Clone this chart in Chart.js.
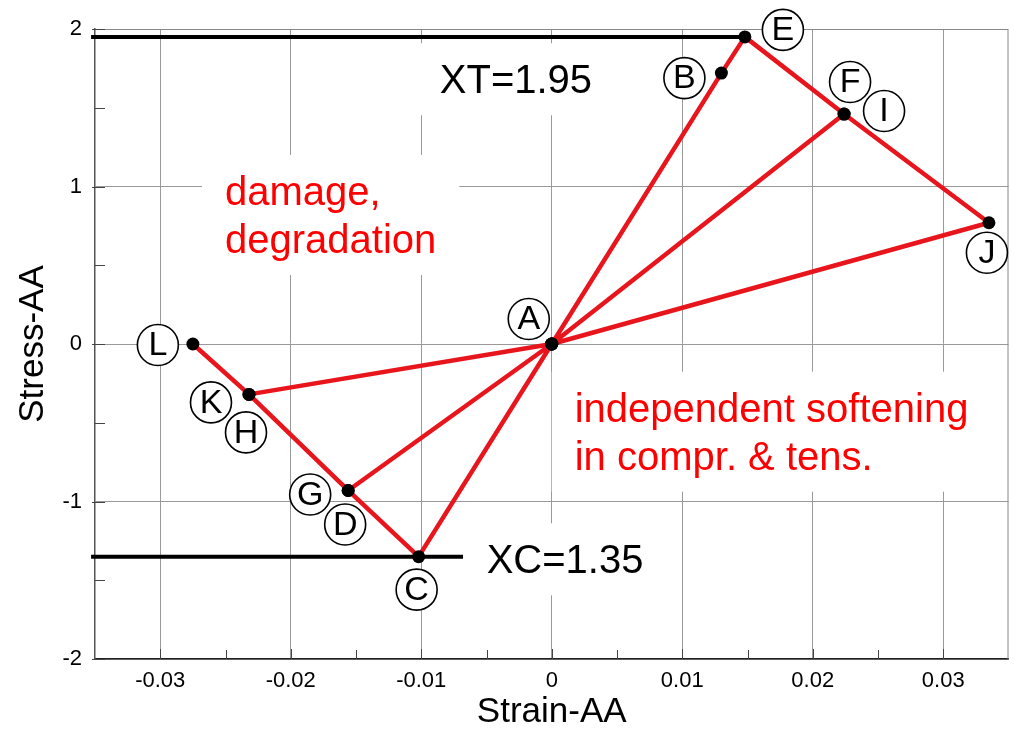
<!DOCTYPE html>
<html>
<head>
<meta charset="utf-8">
<script src="https://cdn.jsdelivr.net/npm/chart.js@4.4.1/dist/chart.umd.min.js"></script>
<style>
html, body { margin: 0; padding: 0; background: #fff; }
</style>
</head>
<body>
<canvas id="grafico" width="1015" height="730"></canvas>
<script>
// loading path, state by state
const estados = ['A', 'B', 'E', 'F', 'A', 'I', 'J', 'A', 'C', 'D', 'A', 'G', 'H', 'A', 'K', 'L'];
const deformacao = [0, 0.0130, 0.0148, 0.0224, 0, 0.0224, 0.0335, 0, -0.0102, -0.0156, 0, -0.0156, -0.0232, 0, -0.0232, -0.0275];
const tensao = [0, 1.72, 1.95, 1.46, 0, 1.46, 0.77, 0, -1.35, -0.93, 0, -0.93, -0.32, 0, -0.32, 0];

// strength limits
const limiteXT = 1.95;
const limiteXC = -1.35;
const extensaoXT = [-0.0353, 0.0148];
const extensaoXC = [-0.0353, -0.0068];

const ticksX = [-0.03, -0.02, -0.01, 0, 0.01, 0.02, 0.03];
const ticksY = [-2, -1, 0, 1, 2];

const fonte = '"Liberation Sans", Arial, sans-serif';

// where each circled letter sits relative to its point (px)
const desvioRotulo = {
	A: [-23, -25], B: [-37, 5], E: [38, -7], F: [6, -32], I: [40, -3], J: [-2, 30],
	C: [-2, 33], D: [-3, 34], G: [-38, 4], H: [-3, 38], K: [-38, 8], L: [-35, 1]
};

// free text, anchored at left / first baseline
const textos = [
	{ x: -0.00858, y: 1.592, linhas: ['XT=1.95'], cor: '#000' },
	{ x: -0.00499, y: -1.456, linhas: ['XC=1.35'], cor: '#000' },
	{ x: -0.02504, y: 0.883, linhas: ['damage,', 'degradation'], cor: '#ff0000' },
	{ x: 0.00176, y: -0.493, linhas: ['independent softening', 'in compr. & tens.'], cor: '#ff0000' }
];

function pares(xs, ys) {
	return xs.map((v, i) => ({ x: v, y: ys[i] }));
}

const anotacoes = {
	id: 'anotacoes',
	beforeDatasetsDraw(chart) {
		const ctx = chart.ctx;
		const sx = chart.scales.x, sy = chart.scales.y;
		const a = chart.chartArea;
		ctx.save();

		// top and right frame
		ctx.strokeStyle = '#888';
		ctx.lineWidth = 1;
		ctx.beginPath();
		ctx.moveTo(a.left, a.top + 0.5);
		ctx.lineTo(a.right - 0.5, a.top + 0.5);
		ctx.lineTo(a.right - 0.5, a.bottom);
		ctx.stroke();

		// inward tick marks
		ctx.strokeStyle = '#444';
		ctx.beginPath();
		ticksX.forEach((t, i) => {
			const px = Math.round(sx.getPixelForValue(t)) + 0.5;
			ctx.moveTo(px, a.bottom); ctx.lineTo(px, a.bottom - 10);
			if (i < ticksX.length - 1) {
				const m = Math.round(sx.getPixelForValue((t + ticksX[i + 1]) / 2)) + 0.5;
				ctx.moveTo(m, a.bottom); ctx.lineTo(m, a.bottom - 9);
			}
		});
		ticksY.forEach((t, i) => {
			const py = Math.round(sy.getPixelForValue(t)) + 0.5;
			ctx.moveTo(a.left - 3, py); ctx.lineTo(a.left + 10, py);
			if (i < ticksY.length - 1) {
				const m = Math.round(sy.getPixelForValue((t + ticksY[i + 1]) / 2)) + 0.5;
				ctx.moveTo(a.left, m); ctx.lineTo(a.left + 10, m);
			}
		});
		ctx.stroke();

		// white boxes behind the free text
		ctx.font = '40px ' + fonte;
		ctx.fillStyle = '#fff';
		textos.forEach(t => {
			const x0 = sx.getPixelForValue(t.x), y0 = sy.getPixelForValue(t.y);
			const w = Math.max(...t.linhas.map(l => ctx.measureText(l).width));
			ctx.fillRect(x0 - 23, y0 - 50, w + 46, 72 + (t.linhas.length - 1) * 48);
		});
		ctx.restore();
	},
	afterDatasetsDraw(chart) {
		const ctx = chart.ctx;
		const sx = chart.scales.x, sy = chart.scales.y;
		ctx.save();

		ctx.font = '40px ' + fonte;
		ctx.textAlign = 'left';
		ctx.textBaseline = 'alphabetic';
		textos.forEach(t => {
			const x0 = sx.getPixelForValue(t.x), y0 = sy.getPixelForValue(t.y);
			ctx.fillStyle = t.cor;
			t.linhas.forEach((l, i) => ctx.fillText(l, x0, y0 + i * 48));
		});

		// circled state letters
		const feitos = {};
		ctx.font = '34px ' + fonte;
		ctx.textAlign = 'center';
		ctx.textBaseline = 'middle';
		estados.forEach((nome, i) => {
			if (feitos[nome]) return;
			feitos[nome] = true;
			const d = desvioRotulo[nome];
			const cx = sx.getPixelForValue(deformacao[i]) + d[0];
			const cy = sy.getPixelForValue(tensao[i]) + d[1];
			ctx.beginPath();
			ctx.arc(cx, cy, 20.5, 0, Math.PI * 2);
			ctx.fillStyle = '#fff';
			ctx.fill();
			ctx.lineWidth = 1.6;
			ctx.strokeStyle = '#000';
			ctx.stroke();
			ctx.fillStyle = '#000';
			ctx.fillText(nome, cx, cy + 1);
		});
		ctx.restore();
	}
};

new Chart(document.getElementById('grafico').getContext('2d'), {
	type: 'scatter',
	data: {
		datasets: [
			{
				label: 'caminho',
				data: pares(deformacao, tensao),
				showLine: true,
				borderColor: '#e8161c',
				borderWidth: 4.5,
				borderJoinStyle: 'round',
				pointRadius: 6.5,
				pointHoverRadius: 6.5,
				pointBackgroundColor: '#000',
				pointBorderWidth: 0,
				order: 0
			},
			{
				label: 'XT',
				data: pares(extensaoXT, [limiteXT, limiteXT]),
				showLine: true,
				borderColor: '#000',
				borderWidth: 4,
				pointRadius: 0,
				clip: false,
				order: 1
			},
			{
				label: 'XC',
				data: pares(extensaoXC, [limiteXC, limiteXC]),
				showLine: true,
				borderColor: '#000',
				borderWidth: 4,
				pointRadius: 0,
				clip: false,
				order: 1
			}
		]
	},
	options: {
		responsive: false,
		animation: false,
		events: [],
		layout: { padding: { left: 0, right: 6, top: 29, bottom: 0 } },
		plugins: { legend: { display: false }, tooltip: { enabled: false } },
		scales: {
			x: {
				type: 'linear',
				min: -0.035,
				max: 0.035,
				afterBuildTicks: s => { s.ticks = ticksX.map(v => ({ value: v })); },
				afterFit: s => { s.height = 71; },
				grid: { color: '#999', lineWidth: 1, drawTicks: false },
				border: { color: '#222', width: 1.5 },
				ticks: {
					color: '#000',
					padding: 9,
					font: { family: fonte, size: 22 },
					callback: v => String(v)
				},
				title: {
					display: true,
					text: 'Strain-AA',
					color: '#000',
					font: { family: fonte, size: 35, lineHeight: 1 },
					padding: { top: 0, bottom: 0 }
				}
			},
			y: {
				type: 'linear',
				min: -2,
				max: 2,
				afterBuildTicks: s => { s.ticks = ticksY.map(v => ({ value: v })); },
				afterFit: s => { s.width = 95; },
				grid: { color: '#999', lineWidth: 1, drawTicks: false },
				border: { color: '#555', width: 1.5 },
				ticks: {
					color: '#000',
					padding: 13,
					font: { family: fonte, size: 22 },
					callback: v => String(v)
				},
				title: {
					display: true,
					text: 'Stress-AA',
					color: '#000',
					font: { family: fonte, size: 35, lineHeight: 1 },
					padding: { top: 16, bottom: 0 }
				}
			}
		}
	},
	plugins: [anotacoes]
});
</script>
</body>
</html>
